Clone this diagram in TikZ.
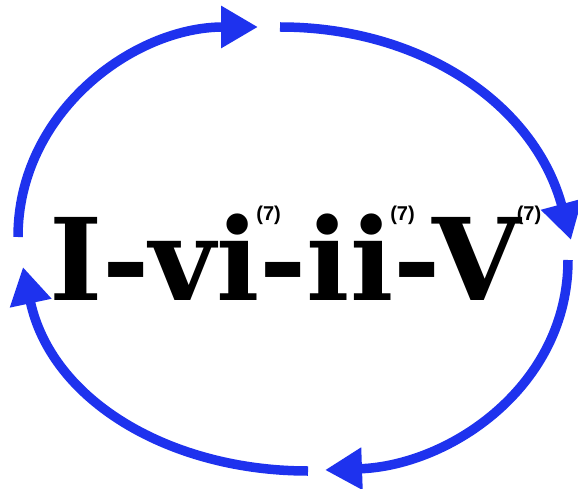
\documentclass[tikz,border=0pt]{standalone}
\usepackage{fontspec}
\setmainfont{DejaVu Serif}
\newfontfamily\supfont{Liberation Sans}
\usetikzlibrary{arrows.meta}
\definecolor{loopblue}{RGB}{30,50,238}
\newcommand{\chordsev}[1]{\makebox[0pt][l]{\hspace*{#1}\raisebox{80pt}{\supfont\bfseries\fontsize{20}{20}\selectfont(7)}}}
\begin{document}
\begin{tikzpicture}[x=1pt,y=1pt,
  looparrow/.style={draw=loopblue, line width=9.5pt, -{Triangle[width=40pt,length=37pt]}}]
\useasboundingbox (0,0) rectangle (578,-489);
\node[anchor=base, inner sep=0pt, font=\bfseries\fontsize{114}{114}\selectfont] (prog) at (285,-300) {I-vi\chordsev{-3pt}-ii\chordsev{-3pt}-V\chordsev{-4pt}};
\coordinate (tl) at (18,-237);
\coordinate (tm) at (258,-27);
\coordinate (tn) at (280,-27);
\coordinate (rt) at (571,-240);
\coordinate (rb) at (568,-260);
\coordinate (bm) at (325,-470);
\coordinate (bn) at (308,-471);
\coordinate (lb) at (23,-267);
\draw[looparrow] (tl) to[out=90, in=180] (tm);
\draw[looparrow] (tn) to[out=0, in=105] (rt);
\draw[looparrow] (rb) to[out=-90, in=2] (bm);
\draw[looparrow] (bn) to[out=180, in=-78] (lb);
\end{tikzpicture}
\end{document}
